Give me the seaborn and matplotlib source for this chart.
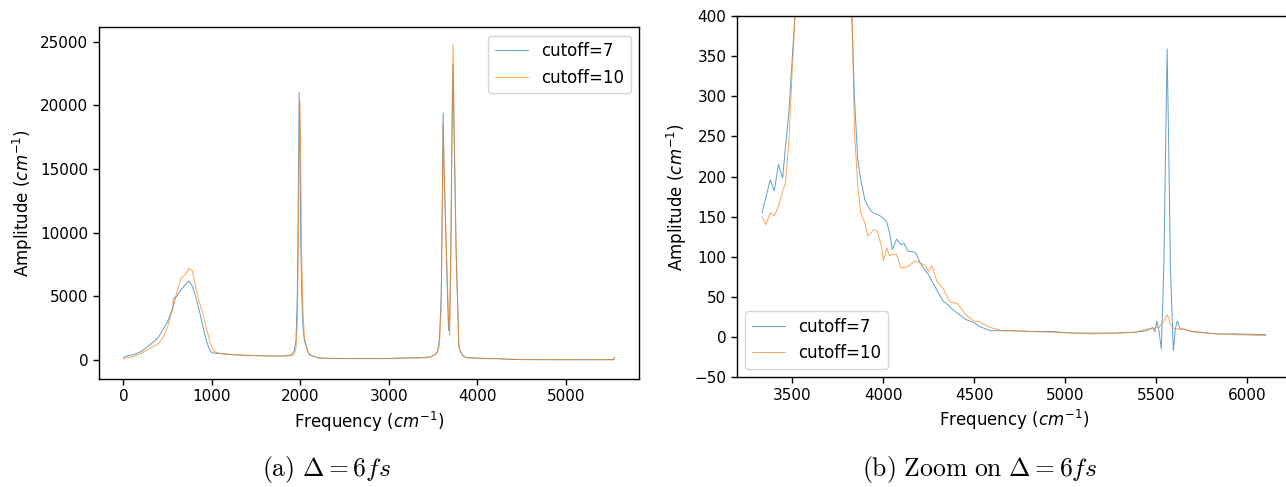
import numpy as np
import pandas as pd
import matplotlib
matplotlib.use('Agg')
import matplotlib.pyplot as plt
import seaborn as sns

# spectrum (frequency in cm^-1)
freq = [0, 50, 100, 150, 200, 250, 300, 350, 400, 450, 500, 550, 575, 600, 650,
        700, 740, 780, 820, 860, 900, 930, 960, 980, 1000, 1030, 1060, 1100, 1200,
        1300, 1400, 1500, 1600, 1700, 1800, 1850, 1900, 1930, 1950, 1965, 1975,
        1986, 1995, 2005, 2015, 2030, 2045, 2060, 2080, 2100, 2150, 2200, 2300,
        2500, 2700, 3000, 3200, 3333, 3355, 3378, 3400, 3423, 3446, 3462, 3480,
        3498, 3514, 3530, 3550, 3570, 3590, 3602, 3612, 3625, 3650, 3673, 3687,
        3700, 3712, 3724, 3740, 3760, 3790, 3810, 3826, 3841, 3859, 3875, 3898,
        3914, 3932, 3948, 3966, 3989, 4000, 4018, 4034, 4049, 4072, 4097, 4113,
        4135, 4169, 4180, 4203, 4226, 4248, 4266, 4293, 4327, 4361, 4373, 4406,
        4452, 4497, 4531, 4542, 4587, 4655, 4700, 4813, 4928, 5041, 5154, 5267,
        5380, 5447, 5480, 5491, 5503, 5514, 5527, 5541, 5550, 5559, 5568, 5577,
        5593, 5604, 5615, 5631, 5649, 5694, 5830, 5943, 6102]

amp_cut7 = [200, 300, 390, 500, 650, 900, 1170, 1450, 1800, 2400, 3000, 3900, 4900, 4950, 5500,
            5900, 6200, 5800, 4900, 3800, 2600, 1700, 1040, 700, 570, 520, 500, 480, 420,
            380, 350, 330, 310, 300, 300, 320, 400, 700, 1500, 5000, 12000,
            21000, 17000, 9000, 5000, 2500, 1500, 1200, 700, 400, 250, 150, 120,
            100, 100, 100, 150, 155, 175, 196, 182, 215, 198, 238, 279,
            345, 400, 480, 700, 1600, 5000, 12000, 19400, 14000, 8000, 2300, 3500,
            9000, 17000, 23200, 16000, 8000, 1000, 600, 400, 296, 221, 196, 171,
            163, 157, 154, 153, 150, 148, 143, 130, 109, 122, 115, 117,
            107, 106, 104, 92, 84, 78, 70, 59, 45, 39, 36, 30,
            22, 18, 13, 12, 8, 8, 8, 7, 7, 5, 5, 5,
            6, 8, 12, 7, 20, 8, -15, 88, 230, 359, 230, 88,
            -17, 10, 20, 10, 10, 7, 4, 4, 3]

amp_cut10 = [80, 160, 250, 370, 500, 700, 900, 1100, 1300, 1800, 2600, 3800, 4400, 5200, 6400,
             6700, 7200, 7000, 5600, 4500, 3600, 2700, 1900, 1300, 1000, 650, 560, 500, 430,
             380, 350, 330, 310, 290, 290, 300, 330, 450, 900, 3000, 8000,
             16000, 20300, 15000, 8000, 3500, 1800, 1300, 800, 450, 280, 160, 120,
             100, 100, 100, 145, 150, 140, 155, 151, 163, 182, 192, 242,
             329, 400, 430, 600, 1200, 4000, 11000, 18500, 14500, 8500, 3200, 1900,
             9500, 19000, 24800, 17000, 8500, 1100, 650, 420, 254, 188, 155, 142,
             126, 130, 134, 132, 113, 95, 111, 101, 103, 103, 86, 87,
             88, 94, 95, 92, 90, 82, 89, 70, 61, 46, 43, 42,
             28, 20, 19, 17, 12, 8, 8, 7, 6, 5, 4, 5,
             6, 10, 11, 11, 12, 12, 16, 20, 24, 28, 24, 16,
             11, 11, 10, 10, 10, 7, 4, 3, 2]

labels = ['cutoff=7', 'cutoff=10']
full_max = 5550     # overview stops here
zoom_min = 3333     # zoom starts here

df = pd.DataFrame({'freq': freq, labels[0]: amp_cut7, labels[1]: amp_cut10})
long = df.melt(id_vars='freq', var_name='series', value_name='amp')

sns.set_style('ticks', {'axes.edgecolor': 'black', 'xtick.color': 'black',
                        'ytick.color': 'black', 'text.color': 'black',
                        'axes.labelcolor': 'black'})
plt.rcParams['font.family'] = ['DejaVu Sans']
plt.rcParams['font.size'] = 11
plt.rcParams['axes.linewidth'] = 1.0

palette = {labels[0]: '#1f77b4', labels[1]: '#ff7f0e'}

fig = plt.figure(figsize=(12.86, 4.87), dpi=100)
ax1 = fig.add_axes([0.0768, 0.222, 0.4203, 0.722])
ax2 = fig.add_axes([0.573, 0.2253, 0.431, 0.742])

sns.lineplot(data=long[long.freq <= full_max], x='freq', y='amp', hue='series',
             palette=palette, lw=0.7, alpha=0.7, ax=ax1)
sns.lineplot(data=long[long.freq >= zoom_min], x='freq', y='amp', hue='series',
             palette=palette, lw=0.7, alpha=0.7, ax=ax2)

ax1.set_ylim(-1500, 26130)
ax2.set_ylim(-50, 400)
ax1.set_xticks([0, 1000, 2000, 3000, 4000, 5000])
ax1.set_yticks([0, 5000, 10000, 15000, 20000, 25000])
ax2.set_xticks([3500, 4000, 4500, 5000, 5500, 6000])
ax2.set_yticks(range(-50, 401, 50))

for ax in (ax1, ax2):
    ax.set_xlabel('Frequency ($cm^{-1}$)', fontsize=12)
    ax.set_ylabel('Amplitude ($cm^{-1}$)', fontsize=12)
    ax.tick_params(labelsize=11, width=1, length=4)

ax1.legend(loc='upper right', fontsize=12, frameon=True, framealpha=0.8)
ax2.legend(loc='lower left', fontsize=12, frameon=True, framealpha=0.8)

fig.text(0.2535, 0.035, r'$\mathrm{(a)}\ \Delta = 6fs$', ha='center', va='center',
         fontsize=18.5, math_fontfamily='cm')
fig.text(0.762, 0.035, r'$\mathrm{(b)\ Zoom\ on}\ \Delta = 6fs$', ha='center', va='center',
         fontsize=18.5, math_fontfamily='cm')

fig.savefig('out.png', dpi=100)
